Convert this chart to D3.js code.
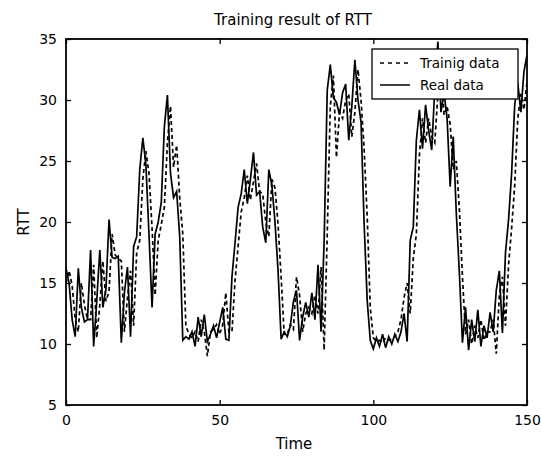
<!DOCTYPE html>
<html>
<head>
<meta charset="utf-8">
<script src="https://cdn.jsdelivr.net/npm/d3@7"></script>
<style>
  body { margin: 0; background: #fff; }
  text { font-family: "DejaVu Sans", sans-serif; fill: #000; }
</style>
</head>
<body>
<svg id="chart" width="541" height="457"></svg>
<script>
// chart data (time steps 0..150)
var realData = [
  16.2, 15.0, 12.0, 10.6, 16.2, 13.0, 11.8, 12.0, 17.7, 9.8,
  13.5, 17.7, 13.0, 14.5, 20.2, 17.1, 17.0, 17.2, 10.1, 14.2,
  16.3, 10.6, 18.0, 18.8, 24.3, 26.9, 24.7, 19.0, 13.0, 19.0,
  20.0, 21.6, 27.8, 30.4, 24.0, 22.0, 22.5, 18.8, 10.3, 10.6,
  10.4, 11.0, 9.8, 12.2, 10.6, 12.4, 10.2, 10.8, 11.5, 10.5,
  11.8, 13.0, 10.4, 10.3, 15.5, 18.3, 21.2, 22.3, 24.3, 21.5,
  23.5, 25.7, 22.2, 22.5, 19.6, 18.3, 24.3, 23.0, 20.0, 16.0,
  10.4, 11.0, 10.6, 11.5, 13.5, 14.4, 10.3, 12.2, 13.4, 12.2,
  14.2, 12.0, 16.5, 11.0, 18.5, 30.8, 32.9, 30.2, 29.8, 28.8,
  30.6, 31.3, 26.7, 29.5, 33.3, 30.0, 28.2, 19.9, 13.6, 10.3,
  9.6, 10.5, 9.8, 10.8, 9.7, 10.6, 10.0, 10.8, 10.2, 11.0,
  12.5, 10.2, 18.5, 19.6, 26.7, 29.2, 26.0, 29.6, 27.5, 25.9,
  31.0, 34.8, 29.0, 30.6, 28.5, 22.9, 27.0, 20.7, 15.8, 10.1,
  13.0, 9.5, 12.0, 10.2, 12.8, 9.8, 11.5, 10.5, 12.6, 11.0,
  14.4, 16.0, 10.9, 17.5, 20.2, 24.0, 29.6, 31.4, 29.0, 32.3,
  33.7
];
var trainData = [
  15.0, 16.0, 14.8, 12.0, 11.0, 15.0, 13.2, 12.0, 12.0, 16.5,
  10.5, 13.2, 16.8, 13.5, 14.3, 19.0, 17.3, 17.0, 16.8, 11.0,
  13.8, 16.0, 11.5, 17.5, 18.5, 23.5, 25.8, 24.0, 19.5, 14.0,
  18.5, 19.8, 21.2, 26.5, 29.5, 24.5, 26.3, 22.0, 19.0, 11.5,
  10.8, 10.5, 11.0, 10.2, 12.0, 11.0, 9.0, 11.0, 11.2, 11.6,
  10.8, 11.6, 14.2, 11.0, 11.0, 15.2, 18.0, 20.8, 22.0, 23.8,
  21.8, 23.3, 24.8, 22.5, 22.3, 20.0, 18.8, 23.5, 22.8, 19.8,
  15.5, 10.8, 10.8, 11.6, 11.2, 15.5, 14.0, 11.0, 12.5, 13.0,
  12.5, 14.0, 12.5, 16.3, 9.5, 19.0, 29.5, 32.0, 25.3, 29.0,
  28.5, 30.0, 30.5, 27.0, 29.0, 32.5, 30.0, 26.0, 20.5, 13.0,
  10.5, 10.2, 10.3, 10.1, 10.5, 10.3, 10.4, 10.6, 11.0, 12.0,
  13.8, 15.0, 12.5, 17.0, 19.0, 25.5, 28.5, 26.5, 28.5, 27.0,
  26.5, 30.5, 33.5, 28.8, 29.5, 28.0, 24.3, 25.0, 21.0, 15.5,
  10.8, 12.0, 10.0, 11.5, 10.5, 12.0, 10.3, 11.0, 11.0, 12.0,
  9.2, 14.0, 15.5, 11.5, 16.5, 19.5, 23.0, 28.5, 30.5, 29.2,
  31.5
];
var xTicks = [0, 50, 100, 150];
var yTicks = [5, 10, 15, 20, 25, 30, 35];
var seriesNames = ['Trainig data', 'Real data'];

var svg = d3.select('#chart');
// plot box in pixels (note: "top" is taken by window.top)
var plotL = 66, plotR = 527, plotT = 39, plotB = 405;

var x = d3.scaleLinear().domain([0, 150]).range([plotL, plotR]);
var y = d3.scaleLinear().domain([5, 35]).range([plotB, plotT]);

svg.append('clipPath').attr('id', 'plotclip')
  .append('rect')
  .attr('x', plotL).attr('y', plotT)
  .attr('width', plotR - plotL).attr('height', plotB - plotT);

var line = d3.line()
  .x(function(d, i) { return x(i); })
  .y(function(d) { return y(d); });

var plot = svg.append('g').attr('clip-path', 'url(#plotclip)');

plot.append('path')
  .datum(realData)
  .attr('d', line)
  .attr('fill', 'none')
  .attr('stroke', '#000')
  .attr('stroke-width', 1.7);

plot.append('path')
  .datum(trainData)
  .attr('d', line)
  .attr('fill', 'none')
  .attr('stroke', '#000')
  .attr('stroke-width', 1.7)
  .attr('stroke-dasharray', '4,3');

// axes, MATLAB style: ticks pointing inward on all four sides
var fmt = d3.format('d');
svg.append('g')
  .attr('transform', 'translate(0,' + plotB + ')')
  .call(d3.axisBottom(x).tickValues(xTicks).tickFormat(fmt).tickSizeInner(-5).tickSizeOuter(0).tickPadding(10));
svg.append('g')
  .attr('transform', 'translate(0,' + plotT + ')')
  .call(d3.axisTop(x).tickValues(xTicks).tickFormat('').tickSizeInner(-5).tickSizeOuter(0));
svg.append('g')
  .attr('transform', 'translate(' + plotL + ',0)')
  .call(d3.axisLeft(y).tickValues(yTicks).tickFormat(fmt).tickSizeInner(-5).tickSizeOuter(0).tickPadding(9));
svg.append('g')
  .attr('transform', 'translate(' + plotR + ',0)')
  .call(d3.axisRight(y).tickValues(yTicks).tickFormat('').tickSizeInner(-5).tickSizeOuter(0));

svg.selectAll('.domain').remove();
svg.selectAll('.tick line').attr('stroke', '#000').attr('stroke-width', 1.3);
svg.selectAll('.tick text')
  .style('font-family', '"DejaVu Sans", sans-serif')
  .style('font-size', '14px')
  .attr('fill', '#000');

svg.append('rect')
  .attr('x', plotL).attr('y', plotT)
  .attr('width', plotR - plotL).attr('height', plotB - plotT)
  .attr('fill', 'none')
  .attr('stroke', '#000')
  .attr('stroke-width', 1.8);

// titles
svg.append('text')
  .attr('x', 293).attr('y', 25)
  .attr('text-anchor', 'middle')
  .style('font-size', '15px')
  .text('Training result of RTT');
svg.append('text')
  .attr('x', 294).attr('y', 449)
  .attr('text-anchor', 'middle')
  .style('font-size', '15px')
  .text('Time');
svg.append('text')
  .attr('transform', 'translate(29,' + ((plotT + plotB) / 2) + ') rotate(-90)')
  .attr('text-anchor', 'middle')
  .style('font-size', '15px')
  .text('RTT');

// legend
var legend = svg.append('g');
legend.append('rect')
  .attr('x', 372).attr('y', 49)
  .attr('width', 146).attr('height', 50)
  .attr('fill', '#fff')
  .attr('stroke', '#000')
  .attr('stroke-width', 1.3);
seriesNames.forEach(function(name, i) {
  var ly = 63 + i * 22;
  legend.append('line')
    .attr('x1', 380).attr('x2', 410)
    .attr('y1', ly).attr('y2', ly)
    .attr('stroke', '#000')
    .attr('stroke-width', 1.5)
    .attr('stroke-dasharray', i === 0 ? '4,4' : null);
  legend.append('text')
    .attr('x', 420).attr('y', ly + 5)
    .style('font-size', '13.5px')
    .text(name);
});
</script>
</body>
</html>
